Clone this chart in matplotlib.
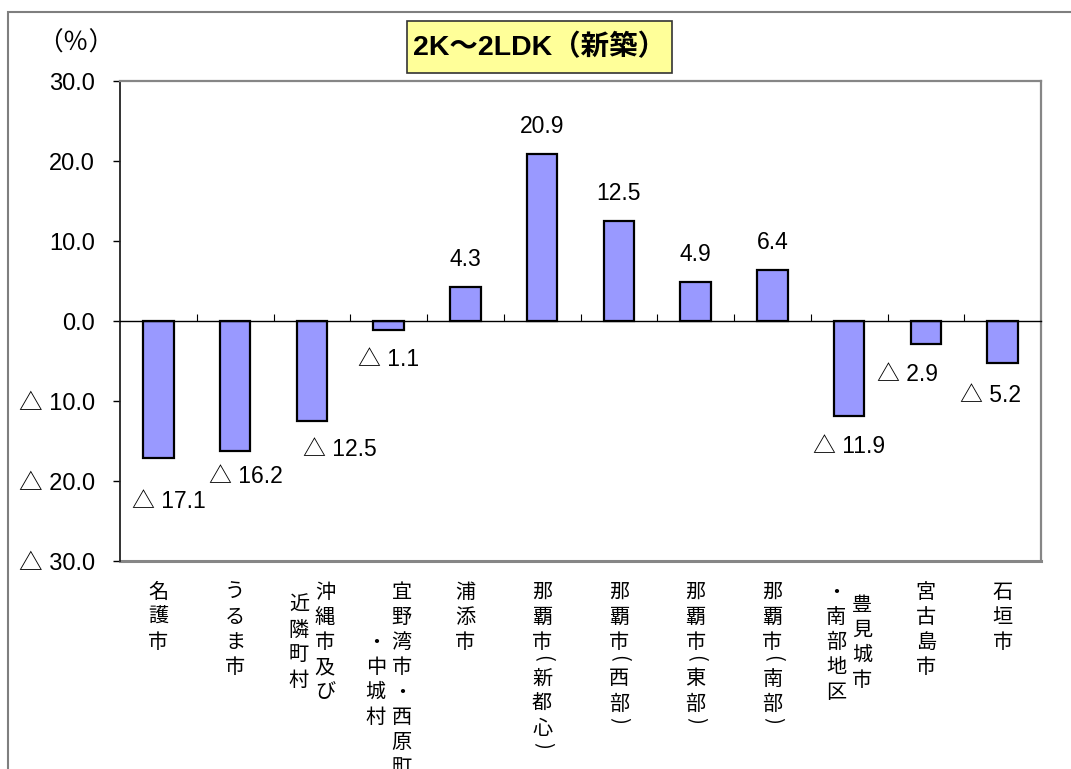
import numpy as np
import matplotlib
matplotlib.use("Agg")
import matplotlib.pyplot as plt
from matplotlib.patches import Rectangle
from matplotlib.ticker import FuncFormatter

# data
categories = [
    ["名護市"],
    ["うるま市"],
    ["沖縄市及び", "近隣町村"],
    ["宜野湾市・西原町", "・中城村"],
    ["浦添市"],
    ["那覇市(新都心)"],
    ["那覇市(西部)"],
    ["那覇市(東部)"],
    ["那覇市(南部)"],
    ["豊見城市", "・南部地区"],
    ["宮古島市"],
    ["石垣市"],
]
values = [-17.1, -16.2, -12.5, -1.1, 4.3, 20.9, 12.5, 4.9, 6.4, -11.9, -2.9, -5.2]
y_ticks = [-30, -20, -10, 0, 10, 20, 30]
title = "2K～2LDK（新築）"
unit = "（％）"

# label nudges in pixels (dx, dy-down) for the negative labels, as placed in the original
neg_offsets = {0: (11, 44), 1: (11, 26), 2: (28, 28), 3: (0, 30),
               9: (0, 30), 10: (-18, 30), 11: (-12, 33)}

W, H = 1071, 769
num_font = ["Liberation Sans", "Noto Sans CJK JP"]
cjk_font = ["Noto Sans CJK JP", "DejaVu Sans"]
gray = "#868686"


def fmt(v):
    return f"△ {abs(v):.1f}" if v < 0 else f"{v:.1f}"


fig = plt.figure(figsize=(W / 100, H / 100), dpi=100)
ax = fig.add_axes([120 / W, 1 - 561 / H, (1041 - 120) / W, (561 - 81) / H])

x = np.arange(len(values))
ax.bar(x, values, width=0.4, color="#9999FF", edgecolor="black", linewidth=1.6, zorder=3)
ax.set_xlim(-0.5, len(values) - 0.5)
ax.set_ylim(-30, 30)

# frame
ax.spines["left"].set_color("#222222")
ax.spines["left"].set_linewidth(1.3)
for s in ["top", "right"]:
    ax.spines[s].set_color(gray)
    ax.spines[s].set_linewidth(1.6)
ax.spines["bottom"].set_position(("data", 0))
ax.spines["bottom"].set_linewidth(1.0)
ax.spines["bottom"].set_zorder(4)
ax.axhline(-30, color=gray, lw=2.2, clip_on=False)

ax.set_xticks(np.arange(0.5, len(values) - 0.5))
ax.tick_params(axis="x", direction="in", length=5, width=0.8, labelbottom=False)
ax.set_yticks(y_ticks)
ax.yaxis.set_major_formatter(FuncFormatter(lambda v, p: fmt(v)))
ax.tick_params(axis="y", direction="out", length=5, width=1, pad=13)
for lab in ax.get_yticklabels():
    lab.set_fontfamily(num_font)
    lab.set_fontsize(17)

# data labels
for i, v in enumerate(values):
    if v >= 0:
        dx, dy = 0, -27
    else:
        dx, dy = neg_offsets[i]
    ax.annotate(fmt(v), xy=(i, v), xytext=(dx, -dy), textcoords="offset pixels",
                ha="center", va="center", fontsize=16.5, family=num_font)

# vertical category labels (columns right to left)
pitch = 25
half_chars = "()"


def col_height(s):
    return sum(pitch * 0.46 if c in half_chars else pitch for c in s)


block_top = 578
col_gap = 26
for i, cols in enumerate(categories):
    cx = ax.transData.transform((i, 0))[0]
    tallest = max(col_height(c) for c in cols)
    n = len(cols)
    for j, col in enumerate(cols):
        colx = cx + ((n - 1) / 2 - j) * col_gap
        y = block_top + (tallest - col_height(col)) / 2
        for ch in col:
            if ch in half_chars:
                h = pitch * 0.46
                fig.text(colx / W, 1 - (y + h / 2) / H, ch, ha="center", va="center",
                         rotation=-90, fontsize=14.5, family=cjk_font)
            else:
                h = pitch
                fig.text(colx / W, 1 - (y + h / 2 + 7.5) / H, ch, ha="center",
                         va="baseline", fontsize=14.5, family=cjk_font)
            y += h

# title box and unit
fig.add_artist(Rectangle((407 / W, 1 - 73 / H), 265 / W, 52 / H, transform=fig.transFigure,
                         facecolor="#FFFF99", edgecolor="#333333", lw=1.2))
fig.text(539.5 / W, 1 - 47 / H, title, ha="center", va="center", fontsize=20.5,
         fontweight="bold", family=num_font)
fig.text(76 / W, 1 - 44 / H, unit, ha="center", va="center", fontsize=18.5, family=cjk_font)

# outer chart border
fig.add_artist(Rectangle((8 / W, -0.1), 1.2, 1.1 - 12 / H, transform=fig.transFigure,
                         fill=False, edgecolor="#7f7f7f", lw=1.5))

fig.savefig("out.png", dpi=100)
